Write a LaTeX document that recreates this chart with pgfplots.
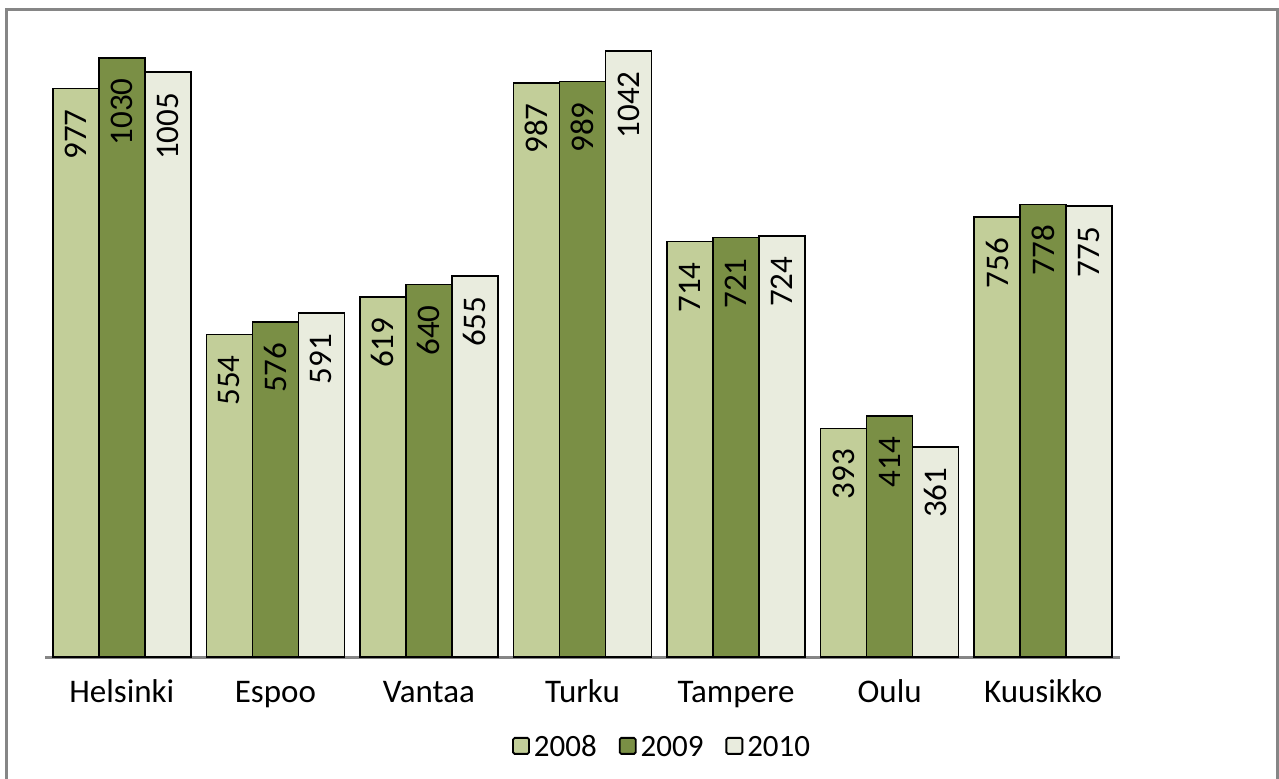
\documentclass[border=0pt]{standalone}
\usepackage{fontspec}
\setmainfont{Carlito}
\usepackage{pgfplots}
\pgfplotsset{compat=1.18}
\definecolor{c2008}{RGB}{194,206,153}
\definecolor{c2009}{RGB}{122,143,69}
\definecolor{c2010}{RGB}{233,236,222}
\definecolor{framegray}{RGB}{134,134,134}
\begin{document}
\begin{tikzpicture}
\useasboundingbox (-22.5pt,-60.5pt) rectangle (617pt,328.5pt);
\draw[framegray, line width=1.5pt] (-19pt,-70pt) rectangle (616pt,323.5pt);
\begin{axis}[
    at={(0pt,0pt)}, anchor=south west,
    scale only axis,
    width=537.5pt, height=320pt,
    ybar=0pt, bar width=23pt,
    xmin=-0.5, xmax=6.5,
    ymin=0, ymax=1100,
    axis x line=bottom, axis y line=none,
    axis line style={-, framegray, line width=1.5pt},
    xtick=data,
    xticklabels={Helsinki,Espoo,Vantaa,Turku,Tampere,Oulu,Kuusikko},
    xtick style={draw=none},
    xticklabel style={font=\fontsize{16.5}{19}\selectfont, anchor=base, yshift=-20.5pt},
    ytick=\empty,
    nodes near coords,
    /pgf/number format/1000 sep={},
    /pgf/number format/assume math mode=true,
    every node near coord/.append style={rotate=90, anchor=east, inner xsep=10pt, inner ysep=2pt,
        font=\fontsize{16.5}{19}\selectfont, black},
    legend columns=3,
    legend style={draw=none, at={(0.575,-0.142)}, anchor=center,
        font=\fontsize{15.5}{18}\selectfont,
        /tikz/every even column/.append style={column sep=9pt}},
    legend image code/.code={\draw[#1, line width=0.9pt, rounded corners=0.8pt] (0pt,-3pt) rectangle (8pt,5pt);},
]
\addplot[fill=c2008, draw=black, line width=0.8pt] coordinates {(0,977) (1,554) (2,619) (3,987) (4,714) (5,393) (6,756)};
\addplot[fill=c2009, draw=black, line width=0.8pt] coordinates {(0,1030) (1,576) (2,640) (3,989) (4,721) (5,414) (6,778)};
\addplot[fill=c2010, draw=black, line width=0.8pt] coordinates {(0,1005) (1,591) (2,655) (3,1042) (4,724) (5,361) (6,775)};
\legend{2008,2009,2010}
\end{axis}
\end{tikzpicture}
\end{document}
